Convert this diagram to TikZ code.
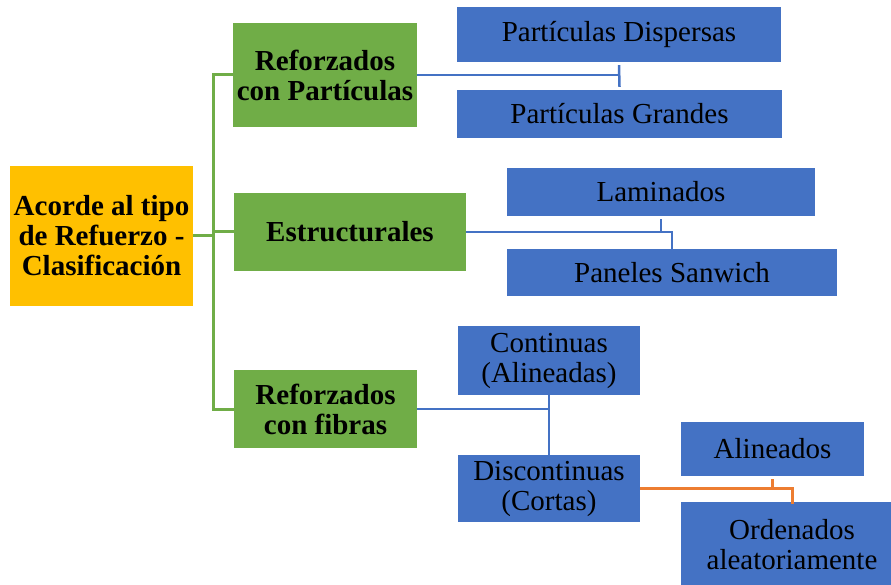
\documentclass[tikz,border=0pt]{standalone}
\usepackage{fontspec}
\setmainfont{Liberation Serif}
\usetikzlibrary{arrows}
\definecolor{amarillo}{HTML}{FFC000}
\definecolor{verde}{HTML}{70AD47}
\definecolor{azul}{HTML}{4472C4}
\definecolor{naranja}{HTML}{ED7D31}
\begin{document}
\begin{tikzpicture}[x=1pt,y=-1pt,
  caja/.style={inner sep=0pt,align=center,font=\fontsize{29}{30}\selectfont},
  raiz/.style={caja,fill=amarillo,font=\fontsize{29}{30}\selectfont\bfseries},
  tipo/.style={caja,fill=verde,font=\fontsize{29}{30}\selectfont\bfseries},
  hoja/.style={caja,fill=azul}]

\clip (0,0) rectangle (891,585);

\node[raiz,minimum width=183pt,minimum height=140pt] (r) at (101.5,236) {Acorde al tipo\\de Refuerzo -\\Clasificación};

\node[tipo,minimum width=184pt,minimum height=104pt] (t1) at (325,75) {Reforzados\\con Partículas};
\node[tipo,minimum width=232pt,minimum height=78pt] (t2) at (350,232) {Estructurales};
\node[tipo,minimum width=183pt,minimum height=78pt] (t3) at (325.5,409) {Reforzados\\con fibras};

\node[hoja,minimum width=324pt,minimum height=55pt] (h1) at (619,34.5) {Partículas Dispersas};
\node[hoja,minimum width=325pt,minimum height=48pt] (h2) at (619.5,114) {Partículas Grandes};
\node[hoja,minimum width=308pt,minimum height=48pt] (h3) at (661,192) {Laminados};
\node[hoja,minimum width=330pt,minimum height=47pt] (h4) at (672,272.5) {Paneles Sanwich};
\node[hoja,minimum width=182pt,minimum height=69pt] (h5) at (549,360.5) {Continuas\\(Alineadas)};
\node[hoja,minimum width=182pt,minimum height=67pt] (h6) at (549,488.5) {Discontinuas\\(Cortas)};
\node[hoja,minimum width=183pt,minimum height=54pt] (h7) at (772.5,449) {Alineados};
\node[hoja,minimum width=222pt,minimum height=86pt] (h8) at (792,545) {Ordenados\\aleatoriamente};

\coordinate (g) at (213,236);

% rama verde
\draw[verde,line width=3pt] (r.east) -- (g);
\draw[verde,line width=3pt] (t1.west) -| (g) |- (t3.west);
\draw[verde,line width=3pt] (t2.west) -- (t2.west -| g);

% ramas azules
\draw[azul,line width=2.5pt] (t1.east) -- (t1.east -| h1.south);
\draw[azul,line width=2.5pt] ([yshift=-3pt]h1.south) -- ([yshift=3pt]h2.north);
\draw[azul,line width=2.5pt] (t2.east) -| ([yshift=-3pt]h3.south);
\draw[azul,line width=2.5pt] (t2.east -| h3.south) -| ([yshift=-3pt]h4.north);
\draw[azul,line width=2.5pt] (t3.east) -- (t3.east -| h5.south);
\draw[azul,line width=2.5pt] (h5.south) -- (h6.north);

% rama naranja
\draw[naranja,line width=3pt] (h6.east) -| ([yshift=-3pt]h7.south);
\draw[naranja,line width=3pt] (h6.east -| h7.south) -| ([yshift=-2pt]h8.north);
\end{tikzpicture}
\end{document}
